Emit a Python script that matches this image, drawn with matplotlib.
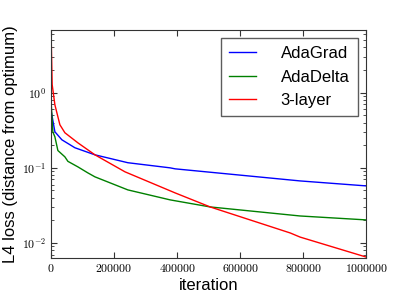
import numpy as np
import matplotlib
matplotlib.use("Agg")
import matplotlib.pyplot as plt
from matplotlib.ticker import FuncFormatter, LogLocator

# values (iteration, loss)
adagrad_iter = [0, 12700, 34900, 76200, 139700, 244000, 378000, 394000, 790000, 1000000]
adagrad_loss = [0.60, 0.302, 0.236, 0.185, 0.149, 0.117, 0.100, 0.097, 0.067, 0.0575]

adadelta_iter = [0, 6300, 12700, 22200, 44400, 54000, 85700, 117000, 139700, 244000,
                 378000, 505000, 759000, 790000, 1000000]
adadelta_loss = [0.86, 0.30, 0.259, 0.170, 0.140, 0.122, 0.103, 0.0858, 0.0759, 0.0509,
                 0.0375, 0.0302, 0.0236, 0.0229, 0.0203]

layer3_iter = [1000, 4100, 12700, 28600, 44400, 85700, 139700, 235000, 394000, 505000,
               759000, 790000, 1000000]
layer3_loss = [5.36, 1.28, 0.69, 0.374, 0.293, 0.215, 0.149, 0.0885, 0.0464, 0.0302,
               0.0136, 0.0120, 0.0065]

plt.rcParams['mathtext.fontset'] = 'cm'
plt.rcParams['font.family'] = ['Liberation Sans', 'DejaVu Sans']

fig = plt.figure(figsize=(4.07, 2.96), dpi=100)
ax = fig.add_subplot(1, 1, 1)
fig.subplots_adjust(left=0.125, right=0.9, bottom=0.128, top=0.9)

ax.plot(adagrad_iter, adagrad_loss, color=(0, 0, 1), lw=1.0, label="AdaGrad")
ax.plot(adadelta_iter, adadelta_loss, color=(0, 0.5, 0), lw=1.0, label="AdaDelta")
ax.plot(layer3_iter, layer3_loss, color=(1, 0, 0), lw=1.0, label="3-layer")

ax.set_yscale("log")
ax.set_xlim(0, 1000000)
ax.set_ylim(0.0063, 6.9)
ax.set_xticks([0, 200000, 400000, 600000, 800000, 1000000])
ax.xaxis.set_major_formatter(FuncFormatter(lambda v, p: "$%d$" % v))
ax.yaxis.set_major_locator(LogLocator(base=10))
ax.yaxis.set_major_formatter(FuncFormatter(lambda v, p: "$10^{%d}$" % round(np.log10(v))))
ax.yaxis.set_minor_locator(LogLocator(base=10, subs=np.arange(2, 10)))
ax.yaxis.set_minor_formatter(FuncFormatter(lambda v, p: ""))

ax.tick_params(which="both", direction="in", top=True, right=True, labelsize=8.5,
               color="#333333")
ax.tick_params(which="major", length=4)
ax.tick_params(which="minor", length=2)
for s in ax.spines.values():
    s.set_color("#333333")

ax.set_xlabel("iteration", fontsize=12, labelpad=2)
ax.set_ylabel("L4 loss (distance from optimum)", fontsize=12, labelpad=3)

leg = ax.legend(loc="upper right", fontsize=12, fancybox=False, handlelength=1.6,
                handletextpad=1.5, borderpad=0.5, labelspacing=0.5, borderaxespad=0.5)
leg.get_frame().set_edgecolor("#333333")
leg.get_frame().set_linewidth(1.0)

fig.savefig("out.png", dpi=100, facecolor="white")
